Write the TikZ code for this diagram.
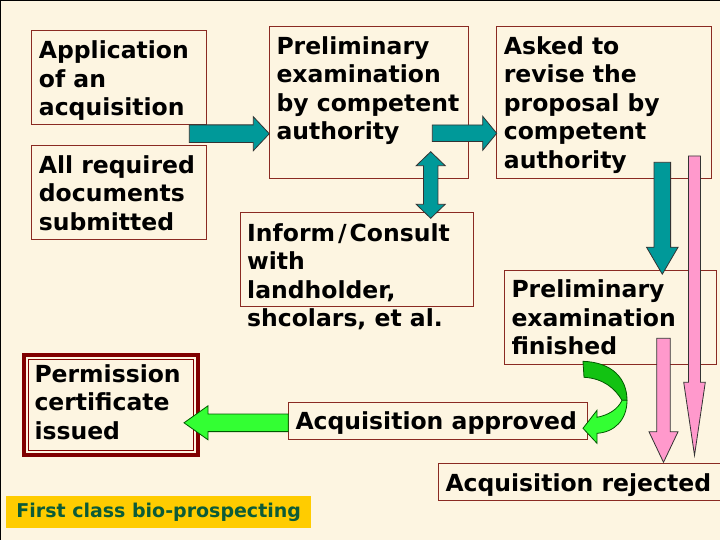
\documentclass[tikz,border=0pt]{standalone}
\usepackage{fontspec}
\setmainfont{DejaVu Sans}
\usetikzlibrary{calc}

\definecolor{cream}{HTML}{FDF5E1}
\definecolor{boxred}{HTML}{8A2A22}
\definecolor{darkred}{HTML}{800000}
\definecolor{tealfill}{HTML}{009999}
\definecolor{pinkfill}{HTML}{FF99CC}
\definecolor{limefill}{HTML}{33FF33}
\definecolor{leafgreen}{HTML}{12C212}
\definecolor{gold}{HTML}{FFCC00}
\definecolor{pinetext}{HTML}{0B5B38}

% block arrow: [style]{start}{tip}{half shaft}{half head}{head length}
\newcommand{\blockarrow}[6][]{%
  \coordinate (ba-s) at (#2);
  \coordinate (ba-t) at (#3);
  \coordinate (ba-b) at ($(ba-t)!#6!(ba-s)$);
  \draw[#1] ($(ba-s)!#4!90:(ba-t)$) -- ($(ba-b)!#4!-90:(ba-s)$)
    -- ($(ba-b)!#5!-90:(ba-s)$) -- (ba-t) -- ($(ba-b)!#5!90:(ba-s)$)
    -- ($(ba-b)!#4!90:(ba-s)$) -- ($(ba-s)!#4!-90:(ba-t)$) -- cycle;}

% arrow with a head at both ends
\newcommand{\dblarrow}[6][]{%
  \coordinate (da-a) at (#2);
  \coordinate (da-b) at (#3);
  \coordinate (da-p) at ($(da-a)!#6!(da-b)$);
  \coordinate (da-q) at ($(da-b)!#6!(da-a)$);
  \draw[#1] (da-a) -- ($(da-p)!#5!90:(da-b)$) -- ($(da-p)!#4!90:(da-b)$)
    -- ($(da-q)!#4!-90:(da-a)$) -- ($(da-q)!#5!-90:(da-a)$) -- (da-b)
    -- ($(da-q)!#5!90:(da-a)$) -- ($(da-q)!#4!90:(da-a)$)
    -- ($(da-p)!#4!-90:(da-b)$) -- ($(da-p)!#5!-90:(da-b)$) -- cycle;}

\begin{document}
\begin{tikzpicture}[x=1pt, y=-1pt,
    box/.style={draw=boxred, fill=cream, line width=0.8pt, anchor=north west,
      inner sep=0pt, outer sep=0pt},
    txt/.style={anchor=north west, align=left, inner sep=0pt,
      font=\fontsize{23.5pt}{28.5pt}\selectfont\bfseries},
    teal arrow/.style={fill=tealfill, draw=black!80, line width=0.8pt},
    pink arrow/.style={fill=pinkfill, draw=black!80, line width=0.8pt},
    lime arrow/.style={fill=limefill, draw=green!35!black, line width=0.8pt}]

    \useasboundingbox (0,0) rectangle (720,540);
    \fill[cream] (0,0) rectangle (720,540);
    \draw[line width=2.5pt] (0,540) -- (0,0) -- (720,0);

    % boxes
    \node[box, minimum width=175pt, minimum height=93.6pt] (app) at (31.7,30.7) {};
    \node[box, minimum width=175pt, minimum height=94.3pt] (docs) at (31.7,145) {};
    \node[box, minimum width=199pt, minimum height=151.6pt] (prelim) at (269.3,26.7) {};
    \node[box, minimum width=215pt, minimum height=151.6pt] (revise) at (496.7,26.7) {};
    \node[box, minimum width=233.3pt, minimum height=93.7pt] (inform) at (240,212.3) {};
    \node[box, minimum width=211.7pt, minimum height=93.6pt] (fin) at (504.3,270.7) {};
    \node[box, minimum width=299.4pt, minimum height=37pt] (approved) at (288.3,402.3) {};
    \node[box, minimum width=282.2pt, minimum height=36.7pt] (rejected) at (438.3,463.3) {};
    \node[box, draw=darkred, line width=4pt, minimum width=173.7pt,
      minimum height=100.6pt] (perm) at (24.3,354.7) {};
    \draw[darkred, line width=1pt] ([xshift=4.5pt, yshift=-4.5pt]perm.north west)
      rectangle ([xshift=-4.5pt, yshift=4.5pt]perm.south east);

    % texts
    \node[txt] (app-t) at ([xshift=7pt, yshift=-10pt]app.north west) {Application\\of an\\acquisition};
    \node[txt] (docs-t) at ([xshift=7pt, yshift=-10pt]docs.north west) {All required\\documents\\submitted};
    \node[txt] (prelim-t) at ([xshift=7pt, yshift=-9.5pt]prelim.north west) {Preliminary\\examination\\by competent\\authority};
    \node[txt] (revise-t) at ([xshift=7pt, yshift=-9.5pt]revise.north west) {Asked to\\revise the\\proposal by\\competent\\authority};
    \node[txt] (inform-t) at ([xshift=7pt, yshift=-11pt]inform.north west) {Inform\kern3pt/\kern3pt Consult\\with\\landholder,\\shcolars, et al.};
    \node[txt] (fin-t) at ([xshift=7pt, yshift=-9pt]fin.north west) {Preliminary\\examination\\finished};
    \node[txt] (perm-t) at ([xshift=10pt, yshift=-9.5pt]perm.north west) {Permission\\certificate\\issued};
    \node[txt] (approved-t) at ([xshift=7pt, yshift=-9.5pt]approved.north west) {Acquisition approved};
    \node[txt] (rejected-t) at ([xshift=7pt, yshift=-10pt]rejected.north west) {Acquisition rejected};

    \node[fill=gold, anchor=north west, minimum width=305pt, minimum height=32pt, inner sep=0pt,
      text=pinetext, font=\fontsize{19pt}{22pt}\selectfont\bfseries] (first) at (6,496)
      {First class bio-prospecting};

    % arrows
    \coordinate (a1) at (189.3,133.7);
    \coordinate (a2) at (432.3,133.3);
    \blockarrow[teal arrow]{a1}{prelim.west |- a1}{8.8pt}{17pt}{16pt}
    \blockarrow[teal arrow]{a2}{revise.west |- a2}{8.3pt}{17pt}{14pt}

    \coordinate (d1) at (430.7,151.7);
    \coordinate (d2) at (430.7,218.3);
    \dblarrow[teal arrow]{d1}{d2}{7.2pt}{14.5pt}{14pt}

    \coordinate (t1) at (662.3,162.3);
    \blockarrow[teal arrow]{t1}{[yshift=-3.5pt]fin.north -| t1}{8.3pt}{15.8pt}{27pt}

    \coordinate (p1) at (694.5,156);
    \coordinate (p2) at (663.5,338.3);
    \blockarrow[pink arrow]{p1}{[yshift=8pt]rejected.north -| p1}{6pt}{10.8pt}{73pt}
    \blockarrow[pink arrow]{p2}{[yshift=1pt]rejected.north -| p2}{6.7pt}{14.5pt}{30.5pt}

    \coordinate (g1) at ([yshift=-2pt]approved.west);
    \blockarrow[lime arrow]{g1}{[xshift=-14pt]perm.east |- g1}{8.8pt}{17pt}{24pt}

    % curved arrow from finished to approved
    \coordinate (ctip) at ([xshift=-4.7pt, yshift=-7.5pt]approved.east);
    \begin{scope}[shift={(ctip)}]
      \draw[lime arrow, fill=leafgreen] (0,-67) .. controls (29,-66) and (44,-50) .. (44,-28)
        -- (39,-28) .. controls (32,-40) and (20,-50) .. (1,-51) -- cycle;
      \draw[lime arrow] (39,-28) -- (44,-28) .. controls (44,-8) and (31,4) .. (14,5)
        -- (14,15) -- (0,0) -- (14,-18) -- (14,-11) .. controls (25,-13) and (35,-19) .. (39,-28) -- cycle;
    \end{scope}
\end{tikzpicture}
\end{document}
